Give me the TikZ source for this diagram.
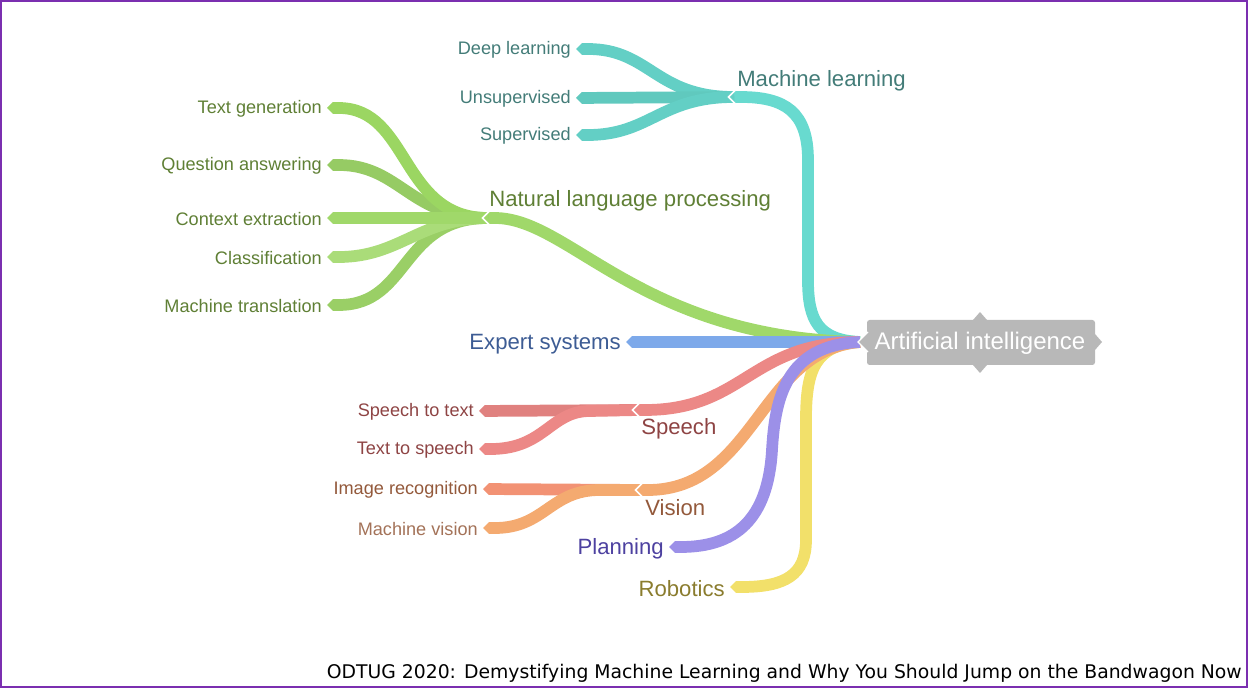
\documentclass[tikz,border=0pt]{standalone}
\usepackage{fontspec}
\setmainfont{Liberation Sans}
\newfontfamily\footfont{DejaVu Sans}
\usetikzlibrary{arrows.meta}
\definecolor{frame}{HTML}{7B2FB0}
\definecolor{mlc}{HTML}{68DACF}
\definecolor{mlt}{HTML}{437C78}
\definecolor{nlpc}{HTML}{A0D86A}
\definecolor{nlpt}{HTML}{5F7F35}
\definecolor{expc}{HTML}{7DA9EA}
\definecolor{expt}{HTML}{3D5C94}
\definecolor{spc}{HTML}{EC8886}
\definecolor{spt}{HTML}{8E4444}
\definecolor{irc}{HTML}{F29274}
\definecolor{visc}{HTML}{F4AA70}
\definecolor{vist}{HTML}{93593B}
\definecolor{plc}{HTML}{9C90E8}
\definecolor{plt}{HTML}{4D41A0}
\definecolor{roc}{HTML}{F2E06A}
\definecolor{rot}{HTML}{8A7C2E}
\definecolor{aic}{HTML}{B8B8B8}
\begin{document}
\begin{tikzpicture}[x=0.75pt,y=-0.75pt,
  br/.style={line width=8.8pt,-{Triangle Cap[]}},
  lbl/.style={inner sep=0pt,font=\fontsize{13.6}{15}\selectfont},
  big/.style={inner sep=0pt,font=\fontsize{16.6}{18}\selectfont},
  chev/.style={white,line width=1.3pt,line join=miter}]
\useasboundingbox (0,0) rectangle (1254,695);
\draw[frame,line width=1.5pt] (1,1) rectangle (1247,687);

% coordinates (junction tips and children starts)
\coordinate (ai) at (860,342);
\coordinate (mlj) at (729,97);   \coordinate (mls) at (734,97);
\coordinate (nlpj) at (483,218); \coordinate (nlps) at (488,218);
\coordinate (spj) at (633,410);  \coordinate (sps) at (638,410);
\coordinate (visj) at (636,490); \coordinate (viss) at (641,490);
\coordinate (dl) at (576,49);
\coordinate (un) at (576,98);
\coordinate (su) at (576,135);
\coordinate (tg) at (327,108);
\coordinate (qa) at (327,165);
\coordinate (ce) at (327,218);
\coordinate (cl) at (327,257);
\coordinate (mt) at (327,305);
\coordinate (es) at (626,342);
\coordinate (stt) at (479,411);
\coordinate (tts) at (479,449);
\coordinate (imr) at (483,489);
\coordinate (mv) at (483,528);
\coordinate (pl) at (669,547);
\coordinate (ro) at (730,587);

% main branches
\draw[br,roc] (ai) .. controls (815,345) and (806,370) .. (806,420) -- (806,540) .. controls (806,575) and (785,587) .. (ro);
\draw[br,mlc] (ai) .. controls (818,340) and (808,320) .. (808,280) -- (808,160) .. controls (808,112) and (785,97) .. (mlj);
\draw[br,nlpc] (ai) .. controls (640,338) and (570,218) .. (nlpj);
\draw[br,expc] (ai) -- (es);
% ML children
\draw[br,mlc!95!black] (mls) .. controls (655,97) and (650,49) .. (dl);
\draw[br,mlc!92!black] (mls) -- (un);
\draw[br,mlc!95!black] (mls) .. controls (660,97) and (650,135) .. (su);
% NLP children
\draw[br,nlpc!94!black] (nlps) .. controls (410,218) and (400,165) .. (qa);
\draw[br,nlpc!105!white] (nlps) .. controls (400,218) and (410,108) .. (tg);
\draw[br,nlpc!96!black] (nlps) .. controls (400,218) and (410,305) .. (mt);
\draw[br,nlpc!90!white] (nlps) .. controls (420,218) and (400,257) .. (cl);
\draw[br,nlpc] (nlps) -- (ce);
% speech children
\draw[br,spc!95!black] (sps) -- (stt);
\draw[br,spc] (sps) -- (590,411) .. controls (550,411) and (545,449) .. (tts);
% vision children
\draw[br,irc] (viss) -- (imr);
\draw[br,visc] (viss) -- (600,490) .. controls (550,490) and (545,528) .. (mv);
% main branches lower
\draw[br,spc] (ai) .. controls (750,342) and (745,410) .. (spj);
\draw[br,visc] (ai) .. controls (760,350) and (755,490) .. (visj);
\draw[br,plc] (ai) .. controls (785,345) and (775,400) .. (772,450) .. controls (768,520) and (735,547) .. (pl);

% chevrons at junctions
\foreach \j in {mlj,nlpj,spj,visj}{
  \draw[chev] ([shift={(7,-7.5)}]\j) -- ([shift={(-0.5,0)}]\j) -- ([shift={(7,7.5)}]\j);
}

% root box
\fill[aic,rounded corners=2pt] (867,320) rectangle (1095,365);
\fill[aic] (973,320) -- (980,312) -- (987,320) -- cycle;
\fill[aic] (973,365) -- (980,373) -- (987,365) -- cycle;
\fill[aic] (1095,334) -- (1102,342) -- (1095,350) -- cycle;
\filldraw[aic,draw=white,line width=1pt] (868,332) -- (858,342) -- (868,352);
\node[inner sep=0pt,text=white,font=\fontsize{18}{20}\selectfont] (root) at (980,343) {Artificial intelligence};

% labels
\node[big,text=mlt,anchor=west] (mll) at (737,81) {Machine learning};
\node[lbl,text=mlt,anchor=east] (dll) at (571,50) {Deep learning};
\node[lbl,text=mlt,anchor=east] (unl) at (571,99) {Unsupervised};
\node[lbl,text=mlt,anchor=east] (sul) at (571,136) {Supervised};
\node[big,text=nlpt,anchor=west] (nlpl) at (489,201) {Natural language processing};
\node[lbl,text=nlpt,anchor=east] (tgl) at (322,109) {Text generation};
\node[lbl,text=nlpt,anchor=east] (qal) at (322,166) {Question answering};
\node[lbl,text=nlpt,anchor=east] (cel) at (322,219) {Context extraction};
\node[lbl,text=nlpt,anchor=east] (cll) at (322,258) {Classification};
\node[lbl,text=nlpt,anchor=east] (mtl) at (322,306) {Machine translation};
\node[big,text=expt,anchor=east] (esl) at (621,344) {Expert systems};
\node[big,text=spt,anchor=west] (spl) at (641,429) {Speech};
\node[lbl,text=spt,anchor=east] (sttl) at (474,412) {Speech to text};
\node[lbl,text=spt,anchor=east] (ttsl) at (474,450) {Text to speech};
\node[big,text=vist,anchor=west] (visl) at (645,508) {Vision};
\node[lbl,text=vist,anchor=east] (imrl) at (478,490) {Image recognition};
\node[lbl,text=vist!85!white,anchor=east] (mvl) at (478,529) {Machine vision};
\node[big,text=plt,anchor=east] (pll) at (664,549) {Planning};
\node[big,text=rot,anchor=east] (rol) at (725,589) {Robotics};

\node[inner sep=0pt,anchor=east,font=\footfont\fontsize{14.1}{16}\selectfont] (foot) at (1242,673) {ODTUG 2020: Demystifying Machine Learning and Why You Should Jump on the Bandwagon Now};
\end{tikzpicture}
\end{document}
